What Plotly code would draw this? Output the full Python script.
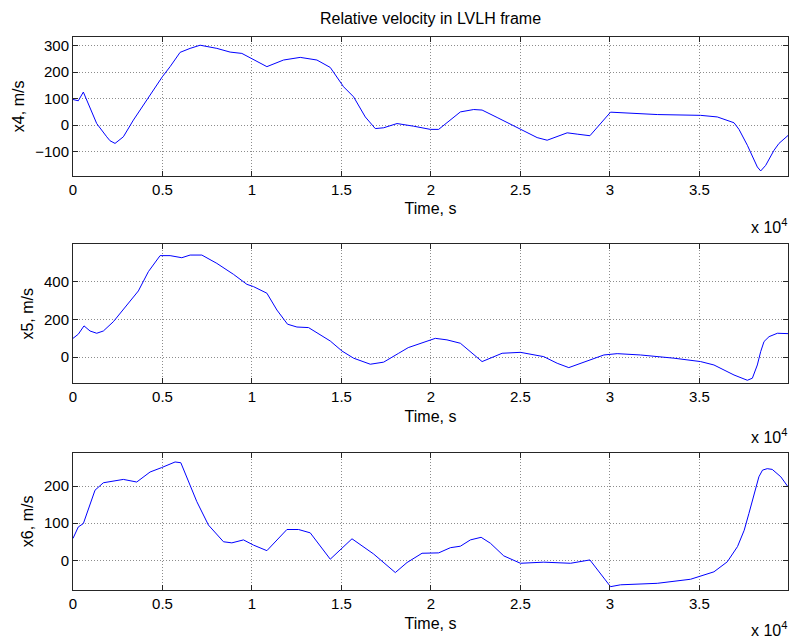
import plotly.graph_objects as go

# ---- data ----
t4 = [0, 296, 577, 1325, 1884, 2069, 2349, 2628, 2814, 3373, 4120, 4994, 5425, 5984, 6543,
      7103, 8036, 8780, 9435, 10083, 10833, 11763, 12696, 13628, 14374, 15117, 15677,
      16331, 16890, 17356, 18104, 19033, 19966, 20430, 21644, 22390, 22857, 23696, 24999,
      25933, 26493, 27053, 27612, 28171, 28881, 30034, 30780, 32644, 35067, 36000, 36932,
      37212, 37678, 38236, 38423, 38702, 39167, 39445, 39949]
x4 = [97, 92, 125, 6, -44, -59, -69, -54, -44, 19, 95, 183, 221, 275, 290,
      302, 290, 276, 271, 249, 221, 246, 256, 246, 218, 145, 107,
      31, -13, -10, 6, -4, -16, -16, 50, 59, 57, 29, -16,
      -47, -57, -44, -29, -34, -40, 49, 47, 40, 37, 31, 9,
      -16, -76, -158, -173, -152, -95, -69, -39]

t5 = [0, 296, 615, 951, 1325, 1697, 2254, 3003, 3652, 4211, 4866, 5425, 6079, 6543, 7198,
      8036, 8967, 9716, 10083, 10833, 11393, 11985, 12511, 13160, 14374, 15028, 15677,
      16611, 17356, 18196, 18731, 20244, 20895, 21644, 22297, 22857, 23976, 24999, 26305,
      27053, 27701, 28540, 29659, 30406, 31711, 33573, 35067, 35811, 36932, 37678, 37958,
      38236, 38423, 38609, 38890, 39357, 39949]
x5 = [100, 122, 166, 139, 127, 139, 188, 277, 351, 453, 538, 538, 527, 541, 541,
      497, 439, 386, 374, 339, 250, 175, 160, 157, 86, 33, -5,
      -37, -26, 21, 51, 100, 92, 74, 21, -23, 21, 26, 3,
      -32, -55, -26, 12, 19, 12, -5, -23, -41, -94, -122, -111,
      -41, 30, 83, 109, 127, 125]

t6 = [0, 296, 577, 1231, 1697, 2254, 2814, 3560, 4306, 4960, 5704, 6024, 6359, 6919, 7568,
      8407, 8874, 9526, 10083, 10833, 11952, 12603, 13255, 14374, 15588, 16797, 18009,
      18663, 19502, 20431, 21085, 21644, 22204, 22803, 23322, 24068, 25000, 26305, 27797,
      28881, 30034, 30593, 32644, 34508, 35811, 36557, 37128, 37501, 37764, 38060, 38322,
      38525, 38788, 39068, 39549, 39949]
x6 = [59, 90, 99, 189, 209, 214, 218, 211, 238, 250, 265, 263, 225, 158, 95,
      50, 47, 55, 41, 26, 83, 83, 74, 3, 58, 17, -33,
      -6, 19, 20, 34, 38, 55, 62, 46, 12, -8, -5, -8,
      1, -71, -66, -62, -51, -31, -4, 37, 81, 126, 176, 225,
      243, 247, 245, 225, 198]

x_tickvals = [0, 5000, 10000, 15000, 20000, 25000, 30000, 35000]
x_ticktext = ["0", "0.5", "1", "1.5", "2", "2.5", "3", "3.5"]
y_labels = ["x4, m/s", "x5, m/s", "x6, m/s"]
y_tickvals = [[-100, 0, 100, 200, 300], [0, 200, 400], [0, 100, 200]]
y_ranges = [[-191, 333], [-138, 598], [-80, 290]]
x_range = [0, 39949]
title_text = "Relative velocity in LVLH frame"

# ---- layout geometry (pixels) ----
W, H = 792, 643
left, right = 73, 788
panels = [(37, 175.7), (244.3, 383.3), (452.7, 590)]  # top, bottom in px
exp_y = [226, 436, 629]

FONT = "Liberation Sans, Arial, Helvetica, sans-serif"
AX_COLOR = "#262626"

fig = go.Figure()
series = [(t4, x4), (t5, x5), (t6, x6)]
for i, (t, v) in enumerate(series):
    sfx = "" if i == 0 else str(i + 1)
    fig.add_trace(go.Scatter(x=t, y=v, mode="lines",
                             line=dict(color="#0000ff", width=1),
                             xaxis="x" + sfx, yaxis="y" + sfx, showlegend=False,
                             hoverinfo="skip"))

layout = dict(
    width=W, height=H, autosize=False,
    margin=dict(l=0, r=0, t=0, b=0),
    paper_bgcolor="white", plot_bgcolor="white",
    font=dict(family=FONT, size=15, color="black"),
    showlegend=False,
    title=dict(text=title_text, x=(left + right) / 2 / W, xanchor="center",
               y=1 - 18 / H, yanchor="middle",
               font=dict(size=16, family=FONT, color="black")),
)

common = dict(showline=True, linecolor=AX_COLOR, linewidth=1, mirror="ticks",
              ticks="inside", ticklen=5, tickcolor=AX_COLOR, tickwidth=1,
              showgrid=True, gridcolor="#8c8c8c", gridwidth=1, griddash="1px,2px",
              zeroline=False, automargin=False,
              tickfont=dict(size=15, family=FONT, color="black"))

annotations = []
for i, (top, bot) in enumerate(panels):
    sfx = "" if i == 0 else str(i + 1)
    ydom = [1 - bot / H, 1 - top / H]
    layout["xaxis" + sfx] = dict(common, domain=[left / W, right / W], anchor="y" + sfx,
                                 range=x_range, tickmode="array",
                                 tickvals=x_tickvals, ticktext=x_ticktext,
                                 title=dict(text="Time, s", standoff=6,
                                            font=dict(size=16, family=FONT, color="black")))
    layout["yaxis" + sfx] = dict(common, domain=ydom, anchor="x" + sfx,
                                 range=y_ranges[i], tickmode="array",
                                 tickvals=y_tickvals[i],
                                 title=dict(text=y_labels[i], standoff=6,
                                            font=dict(size=16, family=FONT, color="black")))
    annotations.append(dict(text="x 10<sup>4</sup>", xref="paper", yref="paper",
                            x=789 / W, xanchor="right", y=1 - exp_y[i] / H,
                            yanchor="middle", showarrow=False,
                            font=dict(size=16, family=FONT, color="black")))

layout["annotations"] = annotations
fig.update_layout(**layout)
fig.write_html("out.html")
